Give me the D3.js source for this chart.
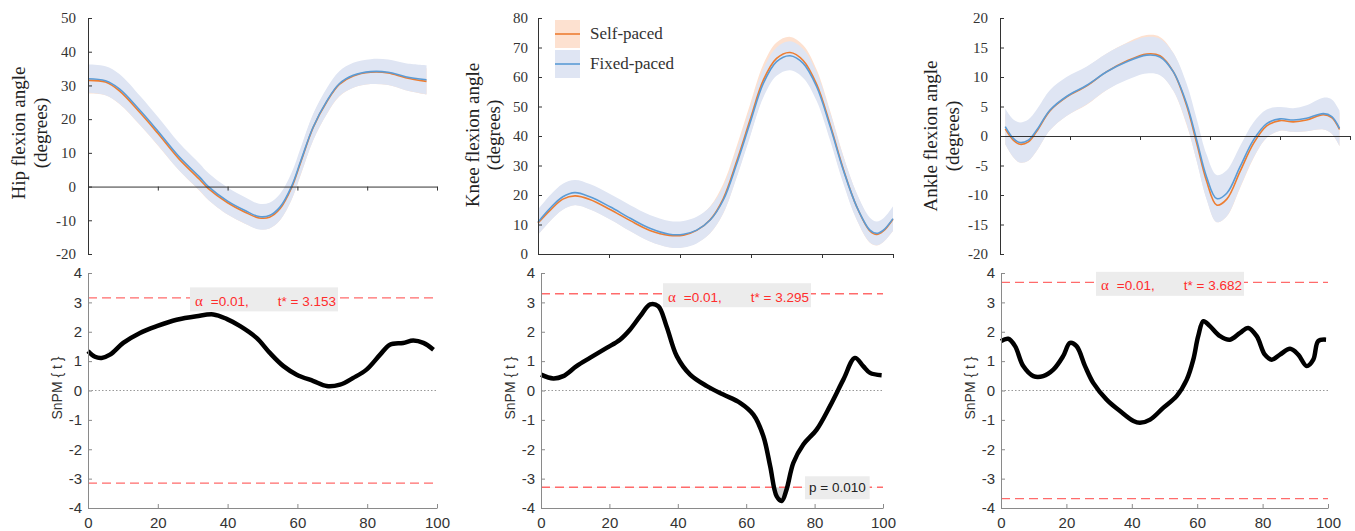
<!DOCTYPE html>
<html><head><meta charset="utf-8">
<script src="https://cdn.jsdelivr.net/npm/d3@7"></script>
<style>body{margin:0;background:#fff}</style>
</head><body>
<svg id="c" width="1355" height="531"></svg>
<script>
// ---------------- DATA ----------------
// Hip flexion angle (degrees), % gait cycle
const hipT      = [0,5,9,15,20,26,32,34.5,40,45,49,52,55,58.3,61,64.5,68.5,72,76,81,86,91,97];
const hipFixed  = [32,31.4,29,22.5,16.5,9,2.8,0,-4.3,-7.1,-8.9,-8.6,-6.1,0,7.7,17.6,25.5,30.5,33,34.1,33.9,32.6,31.7];
const hipSelf   = [31.5,31,28.4,21.8,15.8,8.3,2.1,-0.6,-4.8,-7.6,-9.3,-9.1,-6.6,-0.4,7.4,17.5,25.3,30.3,32.8,33.9,33.7,32.3,31.2];
const hipFixedSD= [4.2,4.3,4.4,4.3,4.2,4.1,4.0,4.0,4.0,3.9,3.8,3.8,3.9,4.0,4.0,3.9,3.8,3.7,3.7,3.7,3.8,4.0,4.3];
const hipSelfSD = [3.9,3.9,3.9,3.7,3.6,3.4,3.4,3.4,3.5,3.4,3.3,3.3,3.4,3.6,3.8,3.8,3.7,3.6,3.5,3.5,3.6,3.7,3.9];

// Knee flexion angle
const kneeT      = [0,3.4,7,10.4,14.6,20.3,26,31.5,37,41,44.7,48.5,52.2,56,59.7,63.5,67.2,71,74.7,78.5,82.3,86,89.8,93.5,95.4,97.3,100];
const kneeFixed  = [10.8,15.5,19.4,20.8,19.4,16,12.1,8.7,6.7,6.7,8.1,11.5,18.3,30.7,44.3,57.9,65.2,67.2,64.6,56.7,43.2,28.5,16,8.1,7,8.1,12];
const kneeSelf   = [10.5,14.8,18.6,19.7,18.5,15.1,11.3,8.0,6.3,6.4,8.0,11.6,18.8,31.5,45.3,59,66.3,68.3,65.6,57.5,43.8,28.8,16,7.8,6.6,7.8,11.8];
const kneeFixedSD= [4.3,4.4,4.4,4.3,4.3,4.3,4.4,4.5,4.5,4.5,4.5,4.5,4.5,4.6,4.7,4.8,4.8,4.9,4.9,4.8,4.7,4.6,4.5,4.2,4.0,4.0,4.2];
const kneeSelfSD = [4.0,3.6,3.5,3.1,3.3,3.3,3.5,3.7,4.0,4.1,4.3,4.6,5.0,5.2,5.3,5.4,5.4,5.3,5.2,5.0,4.7,4.5,4.4,4.0,3.7,3.7,4.0];

// Ankle flexion angle
const ankleT      = [1.5,3.8,5.7,8.1,10.5,14.3,19,24.8,30.5,36.2,41.9,45.7,49.5,53.3,56.2,59,61.9,64.8,68.6,72.4,76.2,80,83.8,87.6,92.4,94.8,97];
const ankleFixed  = [1.6,-0.4,-1.1,-0.7,1.0,4.4,6.7,8.6,10.9,12.6,13.7,13.4,10.9,5.5,-0.7,-6.9,-10.6,-9.7,-5.2,-0.7,2.1,2.9,2.7,3.0,3.8,3.3,1.3];
const ankleSelf   = [1.2,-0.7,-1.4,-1.0,0.8,4.3,6.6,8.5,10.9,12.7,13.9,13.6,10.9,5.2,-1.2,-7.6,-11.7,-10.7,-6.0,-1.3,1.7,2.6,2.4,2.7,3.6,3.1,1.1];
const ankleFixedSD= [3.0,3.2,3.4,3.5,3.5,3.4,3.3,3.2,3.1,3.1,3.1,3.1,3.2,3.4,3.6,3.8,4.0,3.9,3.5,3.0,2.4,2.0,2.0,2.2,2.7,2.9,3.0];
const ankleSelfSD = [2.6,2.9,3.1,3.2,3.3,3.3,3.2,3.2,3.1,3.1,3.2,3.2,3.2,3.3,3.0,3.0,2.9,2.9,2.8,2.5,2.0,1.7,1.7,1.9,2.5,2.7,2.8];

// SnPM {t}
const snpmHipT   = [0,2,3.9,6.3,10.1,14.9,19.7,25.4,31.1,35.9,39.7,43.6,48.3,52.1,56,59.8,64.6,68.4,72.2,76,79.8,83.7,86.5,90.3,93.2,96.1,99];
const snpmHip    = [1.34,1.15,1.11,1.22,1.62,1.96,2.19,2.41,2.53,2.59,2.44,2.19,1.79,1.28,0.83,0.54,0.32,0.15,0.2,0.43,0.71,1.22,1.56,1.62,1.70,1.62,1.39];
const snpmKneeT  = [0,3.6,6.5,10.4,14.3,19.2,23.1,26,29,31.9,34.3,36.7,39.7,43.6,48.5,53.3,58.2,62.1,65,67,68.9,70.4,71.8,73.8,76.7,80.6,84.5,88.4,91.8,94.2,96.2,99.6];
const snpmKnee   = [0.54,0.41,0.49,0.83,1.11,1.45,1.73,2.07,2.53,2.93,2.87,2.19,1.17,0.54,0.15,-0.14,-0.42,-0.82,-1.55,-2.57,-3.6,-3.76,-3.37,-2.46,-1.84,-1.33,-0.53,0.37,1.11,0.83,0.6,0.52];
const snpmAnkleT = [0,2.2,4.3,6.8,9.9,12.9,16,19,21.1,23.1,25.7,28.2,32.3,36.4,40.5,42.5,45.6,49.6,53.7,56.8,58.8,60.3,61.9,63.9,67,70,73.1,75.6,78.2,80.7,82.8,85.3,88.4,90.9,93.5,95.5,97,99.4];
const snpmAnkle  = [1.68,1.76,1.51,0.83,0.49,0.49,0.71,1.17,1.62,1.51,0.83,0.26,-0.31,-0.7,-1.04,-1.1,-0.99,-0.59,-0.19,0.37,1.05,1.85,2.36,2.19,1.85,1.73,1.96,2.13,1.85,1.22,1.05,1.22,1.42,1.22,0.83,1.05,1.68,1.73];

const thresholds   = [3.153, 3.295, 3.682];
const topYLabels   = ["Hip flexion angle","Knee flexion angle","Ankle flexion angle"];
const hipTicks     = [-20,-10,0,10,20,30,40,50];
const kneeTicks    = [0,10,20,30,40,50,60,70,80];
const ankleTicks   = [-20,-15,-10,-5,0,5,10,15,20];
const xTicks       = [0,20,40,60,80,100];
const snpmTicks    = [-4,-3,-2,-1,0,1,2,3,4];
const seriesNames  = ["Self-paced","Fixed-paced"];
const clusterP     = "p = 0.010";

// ---------------- STYLE / LAYOUT ----------------
const C = {selfLine:"#ED7D31", selfBand:"#fde1d0", fixedLine:"#5B9BD5", fixedBand:"#dfe5f3"};
const serif = "'Liberation Serif','Times New Roman',serif";
const sans  = "'Liberation Sans',Arial,sans-serif";
const svg = d3.select("#c");
const curve = d3.curveCatmullRom.alpha(0.5);

const topLayout = [
  {x0:88,  x1:437,  pad:12, lab1:25,  lab2:47,  labY:133},
  {x0:538, x1:893,  pad:10, lab1:479, lab2:500, labY:135},
  {x0:1000,x1:1350, pad:12, lab1:937, lab2:959, labY:136}
];
const botLayout = [
  {x0:88,  x1:437,  labX:62,  boxX:190},
  {x0:541, x1:883,  labX:515, boxX:663},
  {x0:1001,x1:1328, labX:975, boxX:1096}
];

function topPanel(i, t, self, fixed, sdS, sdF, dom, ticks){
  const L = topLayout[i];
  const g = svg.append("g");
  const x = d3.scaleLinear([0,100],[L.x0,L.x1]);
  const y = d3.scaleLinear(dom,[254,18]);
  const idx = d3.range(t.length);
  const band = (m,s)=>d3.area().x(k=>x(t[k])).y0(k=>y(m[k]-s[k])).y1(k=>y(m[k]+s[k])).curve(curve)(idx);
  const line = (m)=>d3.line().x(k=>x(t[k])).y(k=>y(m[k])).curve(curve)(idx);
  g.append("path").attr("d",band(self,sdS)).attr("fill",C.selfBand);
  g.append("path").attr("d",band(fixed,sdF)).attr("fill",C.fixedBand);
  g.append("path").attr("d",line(self)).attr("fill","none").attr("stroke",C.selfLine).attr("stroke-width",1.6);
  g.append("path").attr("d",line(fixed)).attr("fill","none").attr("stroke",C.fixedLine).attr("stroke-width",1.6);

  const ya = g.append("g").attr("transform",`translate(${L.x0},0)`)
    .call(d3.axisLeft(y).tickValues(ticks).tickSizeInner(-4).tickSizeOuter(0).tickPadding(L.pad).tickFormat(d=>String(d)));
  ya.select(".domain").attr("stroke","#333");
  ya.selectAll(".tick line").attr("stroke","#333");
  ya.selectAll(".tick text").attr("font-family",serif).attr("font-size",15).attr("fill","#333");
  const xa = g.append("g").attr("transform",`translate(0,${y(0)})`)
    .call(d3.axisBottom(x).tickValues([20,40,60,80,100]).tickSizeInner(4).tickSizeOuter(0).tickFormat(""));
  xa.select(".domain").attr("stroke","#333");
  xa.selectAll(".tick line").attr("stroke","#333");

  g.append("text").attr("transform",`translate(${L.lab1},${L.labY}) rotate(-90)`).attr("text-anchor","middle")
    .attr("font-family",serif).attr("font-size",19).attr("fill","#222").text(topYLabels[i]);
  g.append("text").attr("transform",`translate(${L.lab2},${L.labY}) rotate(-90)`).attr("text-anchor","middle")
    .attr("font-family",serif).attr("font-size",19).attr("fill","#222").text("(degrees)");
}

topPanel(0, hipT, hipSelf, hipFixed, hipSelfSD, hipFixedSD, [-20,50], hipTicks);
topPanel(1, kneeT, kneeSelf, kneeFixed, kneeSelfSD, kneeFixedSD, [0,80], kneeTicks);
topPanel(2, ankleT, ankleSelf, ankleFixed, ankleSelfSD, ankleFixedSD, [-20,20], ankleTicks);

// legend
const lg = svg.append("g");
[[C.selfBand,C.selfLine,20],[C.fixedBand,C.fixedLine,50]].forEach((d,i)=>{
  lg.append("rect").attr("x",555).attr("y",d[2]).attr("width",25).attr("height",28).attr("fill",d[0]);
  lg.append("line").attr("x1",555).attr("x2",580).attr("y1",d[2]+14).attr("y2",d[2]+14).attr("stroke",d[1]).attr("stroke-width",1.6);
  lg.append("text").attr("x",590).attr("y",d[2]+19).attr("font-family",serif).attr("font-size",17).attr("fill","#333").text(seriesNames[i]);
});

function botPanel(i, t, v, thr, cluster){
  const L = botLayout[i];
  const g = svg.append("g");
  const x = d3.scaleLinear([0,100],[L.x0,L.x1]);
  const y = d3.scaleLinear([-4,4],[508,273]);
  const idx = d3.range(t.length);

  g.append("line").attr("x1",x(0)).attr("x2",x(100)).attr("y1",y(0)).attr("y2",y(0))
    .attr("stroke","#999").attr("stroke-width",1).attr("stroke-dasharray","1.5,2");

  if (cluster){
    const cid = "clip"+i;
    svg.append("clipPath").attr("id",cid).append("rect").attr("x",x(0)).attr("y",y(-thr)).attr("width",x(100)-x(0)).attr("height",y(-4)-y(-thr));
    g.append("path").attr("clip-path",`url(#${cid})`)
      .attr("d",d3.area().x(k=>x(t[k])).y0(y(-thr)).y1(k=>y(v[k])).curve(curve)(idx))
      .attr("fill","#d4d4d4");
  }
  [thr,-thr].forEach(h=>{
    g.append("line").attr("x1",x(0)).attr("x2",x(100)).attr("y1",y(h)).attr("y2",y(h))
      .attr("stroke","#ff6b6b").attr("stroke-width",1.4).attr("stroke-dasharray","9,5");
  });
  g.append("path").attr("d",d3.line().x(k=>x(t[k])).y(k=>y(v[k])).curve(curve)(idx))
    .attr("fill","none").attr("stroke","#000").attr("stroke-width",4.5).attr("stroke-linejoin","round");

  const ya = g.append("g").attr("transform",`translate(${L.x0},0)`)
    .call(d3.axisLeft(y).tickValues(snpmTicks).tickSizeInner(-4).tickSizeOuter(0).tickPadding(6).tickFormat(d=>String(d)));
  const xa = g.append("g").attr("transform",`translate(0,508)`)
    .call(d3.axisBottom(x).tickValues(xTicks).tickSizeInner(-4).tickSizeOuter(0).tickPadding(9).tickFormat(d=>String(d)));
  [ya,xa].forEach(a=>{
    a.select(".domain").attr("stroke","#8a8a8a");
    a.selectAll(".tick line").attr("stroke","#8a8a8a");
    a.selectAll(".tick text").attr("font-family",sans).attr("font-size",15).attr("fill","#333");
  });
  g.append("text").attr("transform",`translate(${L.labX},388) rotate(-90)`).attr("text-anchor","middle")
    .attr("font-family",sans).attr("font-size",14).attr("fill","#333").text("SnPM { t }");

  const by = y(thr);
  const box = g.append("rect").attr("fill","#ececec");
  const tx = g.append("text").attr("x",L.boxX+5).attr("y",by+8).attr("font-family",sans).attr("font-size",13.5).attr("fill","#ff2d2d");
  tx.append("tspan").attr("font-family",serif).attr("font-size",15).text("α");
  tx.append("tspan").attr("dx",8).text("=0.01,");
  tx.append("tspan").attr("dx",29).text("t* = " + thr.toFixed(3));
  const bb = tx.node().getBBox();
  box.attr("x",L.boxX).attr("y",by-10.5).attr("width",bb.x+bb.width+2-L.boxX).attr("height",24);

  if (cluster){
    const py = y(-thr);
    const pb = g.append("rect").attr("fill","#ececec");
    const pt = g.append("text").attr("x",809).attr("y",py+5).attr("font-family",sans).attr("font-size",13.5).attr("fill","#222").text(clusterP);
    const b2 = pt.node().getBBox();
    pb.attr("x",805).attr("y",py-11).attr("width",b2.x+b2.width+4-805).attr("height",23);
  }
}

botPanel(0, snpmHipT, snpmHip, thresholds[0], false);
botPanel(1, snpmKneeT, snpmKnee, thresholds[1], true);
botPanel(2, snpmAnkleT, snpmAnkle, thresholds[2], false);
</script>
</body></html>
